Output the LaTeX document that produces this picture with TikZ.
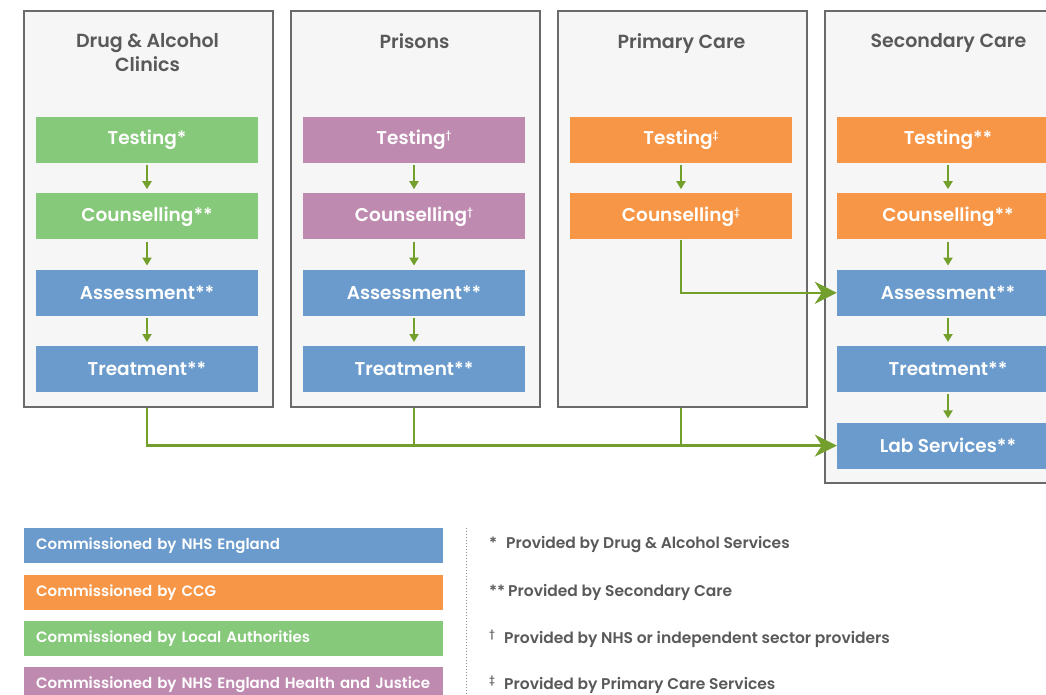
\documentclass[tikz,border=0pt]{standalone}
\usepackage{fontspec}
\setmainfont{Poppins}[BoldFont={Poppins SemiBold}]
\usetikzlibrary{positioning,arrows.meta}

\definecolor{nhsblue}{HTML}{6A9BCC}
\definecolor{ccgorange}{HTML}{F79646}
\definecolor{lagreen}{HTML}{86C97A}
\definecolor{hjpurple}{HTML}{BF8AB0}
\definecolor{panelgrey}{HTML}{F6F6F6}
\definecolor{framegrey}{HTML}{6A6A6A}
\definecolor{linkgreen}{HTML}{73A02C}
\definecolor{textgrey}{HTML}{595959}

\newcommand{\smark}[1]{\raisebox{6pt}{\fontsize{9.5}{9.5}\selectfont #1}}
\newcommand{\sdag}{\smark{†}}
\newcommand{\sddag}{\smark{‡}}

\begin{document}
\begin{tikzpicture}[x=1pt,y=-1pt,
    panel/.style={draw=framegrey,line width=2pt,fill=panelgrey,minimum width=249pt,inner sep=0pt,anchor=north west},
    title/.style={text=textgrey,font=\fontsize{19}{24.5}\selectfont\bfseries,align=center,inner sep=0pt,anchor=north},
    stage/.style={minimum width=222pt,minimum height=46pt,inner sep=0pt,text=white,font=\fontsize{18.5}{22}\selectfont\bfseries},
    flow/.style={-{Triangle[length=8pt,width=9pt]},linkgreen,line width=2pt,shorten <=2pt,shorten >=4pt},
    link/.style={linkgreen,line width=2.5pt},
    bigtip/.style={-{Stealth[length=22pt,width=22pt,inset=7pt]}},
    legend/.style={minimum width=419pt,minimum height=35pt,inner xsep=12pt,inner ysep=0pt,text width=395pt,align=left,text=white,font=\fontsize{15}{17}\selectfont\bfseries},
    note/.style={anchor=west,inner sep=0pt,text=textgrey,font=\fontsize{15.5}{17}\selectfont\bfseries}]
  \useasboundingbox (0,0) rectangle (1046,695);

  % panels
  \node[panel,minimum height=396pt] (dac) at (23,10) {};
  \node[panel,minimum height=396pt] (pr) at (290,10) {};
  \node[panel,minimum height=396pt] (pc) at (557,10) {};
  \node[panel,minimum height=472pt] (sec) at (824,10) {};

  \node[title] (dact) at (147.5,33) {Drug \& Alcohol\\Clinics};
  \node[title] (prt) at (414.5,33) {Prisons};
  \node[title] (pct) at (681.5,33) {Primary Care};
  \node[title] (sect) at (948.5,33) {Secondary Care};

  % drug & alcohol clinics
  \node[stage,fill=lagreen] (dac1) at (147,140) {Testing*};
  \node[stage,fill=lagreen,below=30pt of dac1] (dac2) {Counselling**};
  \node[stage,fill=nhsblue,below=30pt of dac2] (dac3) {Assessment**};
  \node[stage,fill=nhsblue,below=30pt of dac3] (dac4) {Treatment**};

  % prisons
  \node[stage,fill=hjpurple] (pr1) at (414,140) {Testing\sdag};
  \node[stage,fill=hjpurple,below=30pt of pr1] (pr2) {Counselling\sdag};
  \node[stage,fill=nhsblue,below=30pt of pr2] (pr3) {Assessment**};
  \node[stage,fill=nhsblue,below=30pt of pr3] (pr4) {Treatment**};

  % primary care
  \node[stage,fill=ccgorange] (pc1) at (681,140) {Testing\sddag};
  \node[stage,fill=ccgorange,below=30pt of pc1] (pc2) {Counselling\sddag};

  % secondary care
  \node[stage,fill=ccgorange] (sec1) at (948,140) {Testing**};
  \node[stage,fill=ccgorange,below=30pt of sec1] (sec2) {Counselling**};
  \node[stage,fill=nhsblue,below=30pt of sec2] (sec3) {Assessment**};
  \node[stage,fill=nhsblue,below=30pt of sec3] (sec4) {Treatment**};
  \node[stage,fill=nhsblue,below=30pt of sec4] (sec5) {Lab Services**};

  \foreach \col/\n in {dac/4,pr/4,pc/2,sec/5} {
    \foreach \i [remember=\i as \j (initially 1)] in {2,...,\n}
      \draw[flow] (\col\j) -- (\col\i);
  }

  % links to secondary care
  \draw[link] (pr4 |- pr.south) -- (pr4 |- sec5.west);
  \draw[link] (pc2 |- pc.south) -- (pc2 |- sec5.west);
  \draw[link,bigtip] (dac4 |- dac.south) |- (sec5.west);
  \draw[link,bigtip] (pc2.south) |- (sec3.west);

  % legend
  \node[legend,fill=nhsblue,anchor=north west] (leg1) at (24,528) {Commissioned by NHS England};
  \node[legend,fill=ccgorange,below=11pt of leg1] (leg2) {Commissioned by CCG};
  \node[legend,fill=lagreen,below=11pt of leg2] (leg3) {Commissioned by Local Authorities};
  \node[legend,fill=hjpurple,below=11pt of leg3] (leg4) {Commissioned by NHS England Health and Justice};

  \draw[textgrey!70,dotted,line width=1pt] (466,528) -- (466,695);

  \node[note] (fn1) at (489,545) {\makebox[17pt][l]{*}Provided by Drug \& Alcohol Services};
  \node[note] (fn2) at (fn1.west |- leg2) {\makebox[19pt][l]{**}Provided by Secondary Care};
  \node[note] (fn3) at (fn1.west |- leg3) {\makebox[15pt][l]{\smark{†}}Provided by NHS or independent sector providers};
  \node[note] (fn4) at (fn1.west |- leg4) {\makebox[15pt][l]{\smark{‡}}Provided by Primary Care Services};
\end{tikzpicture}
\end{document}
